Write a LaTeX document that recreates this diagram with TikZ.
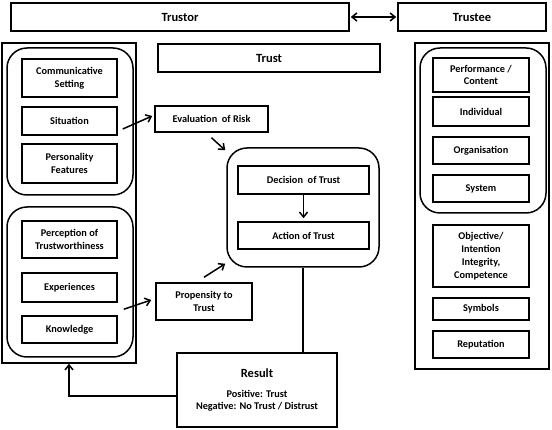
\documentclass[tikz,border=0pt]{standalone}
\usepackage{fontspec}
\setmainfont{Carlito}
\usetikzlibrary{arrows.meta}
\begin{document}
\begin{tikzpicture}[x=1pt,y=-1pt,
  box/.style={draw, line width=1.5pt, align=center, inner sep=0pt,
    font=\bfseries\fontsize{10.3}{12.8}\selectfont},
  bigbox/.style={box, font=\bfseries\fontsize{12.5}{15}\selectfont},
  frame/.style={draw, line width=1.5pt, inner sep=0pt},
  rframe/.style={frame, rounded corners=20pt},
  arr/.style={line width=1.5pt, -{Straight Barb[length=5pt,width=8pt]}},
  darr/.style={line width=1.5pt, {Straight Barb[length=5pt,width=8pt]}-{Straight Barb[length=5pt,width=8pt]}}
]
\useasboundingbox[fill=white] (0,0) rectangle (552,430);
% top row
\node[bigbox, minimum width=338pt, minimum height=28pt] (tor) at (180,17) {Trustor};
\node[bigbox, minimum width=148pt, minimum height=28pt] (tee) at (472,17) {Trustee};
\node[bigbox, minimum width=222pt, minimum height=28pt] (trust) at (269,58) {Trust};
% left side frames
\node[frame, minimum width=134pt, minimum height=320pt] (lo) at (69,203) {};
\node[rframe, minimum width=126pt, minimum height=147pt] (lr1) at (70,121.5) {};
\node[rframe, minimum width=126pt, minimum height=150pt] (lr2) at (70,282) {};
% left boxes
\node[box, minimum width=95pt, minimum height=38pt] (comm) at (69.5,78) {Communicative\\Setting};
\node[box, minimum width=95pt, minimum height=28pt] (sit) at (69.5,121) {Situation};
\node[box, minimum width=95pt, minimum height=39pt] (pers) at (69.5,163.5) {Personality\\Features};
\node[box, minimum width=95pt, minimum height=37pt] (perc) at (69.5,239.5) {Perception of\\Trustworthiness};
\node[box, minimum width=95pt, minimum height=29pt] (exp) at (69.5,287.5) {Experiences};
\node[box, minimum width=95pt, minimum height=27pt] (know) at (69.5,329.5) {Knowledge};
% middle
\node[box, minimum width=113pt, minimum height=26pt] (eval) at (211.5,119) {Evaluation\ \ of Risk};
\node[rframe, minimum width=152pt, minimum height=119pt] (cr) at (303,207.5) {};
\node[box, minimum width=131pt, minimum height=28pt] (dec) at (303.5,180) {Decision\ \ of Trust};
\node[box, minimum width=131pt, minimum height=27pt] (act) at (303.5,235.5) {Action of Trust};
\node[box, minimum width=96pt, minimum height=37pt] (prop) at (204,301.5) {Propensity to\\Trust};
\node[box, minimum width=160pt, minimum height=74pt, align=center] (res) at (257,390)
  {{\fontsize{12.5}{15}\selectfont Result}\\[7pt]Positive: Trust\\Negative: No Trust / Distrust};
% right side frames
\node[frame, minimum width=134pt, minimum height=326pt] (ro) at (482,206) {};
\node[rframe, minimum width=126pt, minimum height=165pt] (rr) at (483,130.5) {};
\node[box, minimum width=96pt, minimum height=34pt] (perf) at (481,75) {Performance /\\Content};
\node[box, minimum width=96pt, minimum height=29pt] (ind) at (481,111.5) {Individual};
\node[box, minimum width=96pt, minimum height=27pt] (org) at (481,150.5) {Organisation};
\node[box, minimum width=96pt, minimum height=27pt] (sys) at (481,188.5) {System};
\node[box, minimum width=96pt, minimum height=62pt] (obj) at (481,256) {Objective/\\Intention\\Integrity,\\Competence};
\node[box, minimum width=96pt, minimum height=22pt] (sym) at (481,309) {Symbols};
\node[box, minimum width=96pt, minimum height=27pt] (rep) at (481,344.5) {Reputation};
% connectors
\draw[darr, shorten <=1pt, shorten >=1pt] (tor.east) -- (tee.west);
\draw[arr] ([xshift=5pt,yshift=-8pt]sit.east) -- ([xshift=-2pt,yshift=3pt]eval.west);
\draw[arr] ([yshift=-5pt]eval.south) -- ([xshift=-1pt,yshift=-3pt]cr.north west);
\draw[arr] ([xshift=6pt,yshift=6pt]know.north east) -- ([xshift=-4pt,yshift=1.5pt]prop.west);
\draw[arr] ([yshift=5pt]prop.north) -- ([xshift=-1pt,yshift=4pt]cr.south west);
\draw[arr, shorten >=3pt] (dec.south) -- (act.north);
\draw[line width=1.5pt] (cr.south) -- (cr.south |- res.north);
\draw[arr] ([yshift=-6pt]res.west) -| (lo.south);
\end{tikzpicture}
\end{document}
